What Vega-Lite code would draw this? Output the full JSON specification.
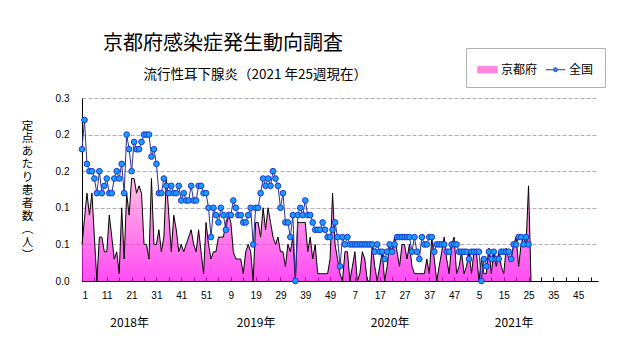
{
  "$schema": "https://vega.github.io/schema/vega-lite/v6.json",
  "width": 516,
  "height": 183,
  "autosize": "none",
  "padding": {"left": 82, "top": 98, "right": 33, "bottom": 66},
  "background": "white",
  "config": {
    "view": {"stroke": null},
    "axisY": {
      "values": [0, 0.05, 0.1, 0.15, 0.2, 0.25],
      "labelExpr": "format(datum.value + 0.0001, '.1f')",
      "grid": true, "gridDash": [4, 2], "gridColor": "#b8a8b8", "gridWidth": 1,
      "domainColor": "#000000", "ticks": false, "labelPadding": 13, "labelOverlap": false,
      "labelFont": "Liberation Sans Narrow, Liberation Sans", "labelFontSize": 10, "labelColor": "#000000"
    }
  },
  "title": {
    "text": "京都府感染症発生動向調査",
    "subtitle": "\u200b　　　流行性耳下腺炎（2021 年25週現在）",
    "anchor": "start", "frame": "group", "dx": 21, "offset": -34,
    "font": "Noto Sans CJK JP", "fontSize": 20, "fontWeight": "normal", "color": "#000000",
    "subtitleFont": "Noto Sans CJK JP", "subtitleFontSize": 13.5, "subtitleColor": "#000000", "subtitlePadding": 14
  },
  "data": {"values": [
    {"w":1,"kyoto":0.05,"national":0.18},{"w":2,"kyoto":0.085,"national":0.22},{"w":3,"kyoto":0.12,"national":0.16},{"w":4,"kyoto":0.09,"national":0.15},{"w":5,"kyoto":0.12,"national":0.15},
    {"w":6,"kyoto":0.06,"national":0.14},{"w":7,"kyoto":0.0,"national":0.12},{"w":8,"kyoto":0.06,"national":0.15},{"w":9,"kyoto":0.06,"national":0.12},{"w":10,"kyoto":0.04,"national":0.13},
    {"w":11,"kyoto":0.04,"national":0.14},{"w":12,"kyoto":0.09,"national":0.12},{"w":13,"kyoto":0.06,"national":0.12},{"w":14,"kyoto":0.03,"national":0.14},{"w":15,"kyoto":0.04,"national":0.15},
    {"w":16,"kyoto":0.01,"national":0.14},{"w":17,"kyoto":0.10,"national":0.16},{"w":18,"kyoto":0.03,"national":0.12},{"w":19,"kyoto":0.12,"national":0.20},{"w":20,"kyoto":0.09,"national":0.18},
    {"w":21,"kyoto":0.14,"national":0.15},{"w":22,"kyoto":0.14,"national":0.19},{"w":23,"kyoto":0.12,"national":0.18},{"w":24,"kyoto":0.13,"national":0.18},{"w":25,"kyoto":0.12,"national":0.19},
    {"w":26,"kyoto":0.05,"national":0.20},{"w":27,"kyoto":0.05,"national":0.20},{"w":28,"kyoto":0.03,"national":0.20},{"w":29,"kyoto":0.14,"national":0.17},{"w":30,"kyoto":0.05,"national":0.18},
    {"w":31,"kyoto":0.05,"national":0.16},{"w":32,"kyoto":0.07,"national":0.12},{"w":33,"kyoto":0.04,"national":0.12},{"w":34,"kyoto":0.06,"national":0.14},{"w":35,"kyoto":0.14,"national":0.13},
    {"w":36,"kyoto":0.09,"national":0.12},{"w":37,"kyoto":0.04,"national":0.13},{"w":38,"kyoto":0.09,"national":0.12},{"w":39,"kyoto":0.07,"national":0.12},{"w":40,"kyoto":0.04,"national":0.13},
    {"w":41,"kyoto":0.05,"national":0.11},{"w":42,"kyoto":0.04,"national":0.12},{"w":43,"kyoto":0.05,"national":0.11},{"w":44,"kyoto":0.06,"national":0.11},{"w":45,"kyoto":0.07,"national":0.13},
    {"w":46,"kyoto":0.05,"national":0.11},{"w":47,"kyoto":0.04,"national":0.11},{"w":48,"kyoto":0.07,"national":0.13},{"w":49,"kyoto":0.04,"national":0.13},{"w":50,"kyoto":0.01,"national":0.12},
    {"w":51,"kyoto":0.08,"national":0.12},{"w":52,"kyoto":0.05,"national":0.10},{"w":53,"kyoto":0.03,"national":0.06},{"w":54,"kyoto":0.04,"national":0.10},{"w":55,"kyoto":0.04,"national":0.09},
    {"w":56,"kyoto":0.06,"national":0.08},{"w":57,"kyoto":0.06,"national":0.10},{"w":58,"kyoto":0.06,"national":0.09},{"w":59,"kyoto":0.08,"national":0.07},{"w":60,"kyoto":0.09,"national":0.09},
    {"w":61,"kyoto":0.08,"national":0.09},{"w":62,"kyoto":0.04,"national":0.11},{"w":63,"kyoto":0.03,"national":0.10},{"w":64,"kyoto":0.03,"national":0.09},{"w":65,"kyoto":0.03,"national":0.09},
    {"w":66,"kyoto":0.01,"national":0.08},{"w":67,"kyoto":0.04,"national":0.08},{"w":68,"kyoto":0.05,"national":0.09},{"w":69,"kyoto":0.04,"national":0.10},{"w":70,"kyoto":0.0,"national":0.05},
    {"w":71,"kyoto":0.08,"national":0.10},{"w":72,"kyoto":0.08,"national":0.10},{"w":73,"kyoto":0.06,"national":0.12},{"w":74,"kyoto":0.10,"national":0.14},{"w":75,"kyoto":0.07,"national":0.13},
    {"w":76,"kyoto":0.10,"national":0.14},{"w":77,"kyoto":0.08,"national":0.13},{"w":78,"kyoto":0.06,"national":0.15},{"w":79,"kyoto":0.05,"national":0.14},{"w":80,"kyoto":0.06,"national":0.13},
    {"w":81,"kyoto":0.04,"national":0.10},{"w":82,"kyoto":0.04,"national":0.12},{"w":83,"kyoto":0.02,"national":0.08},{"w":84,"kyoto":0.05,"national":0.08},{"w":85,"kyoto":0.04,"national":0.06},
    {"w":86,"kyoto":0.06,"national":0.09},{"w":87,"kyoto":0.0,"national":0.0},{"w":88,"kyoto":0.08,"national":0.09},{"w":89,"kyoto":0.08,"national":0.10},{"w":90,"kyoto":0.08,"national":0.09},
    {"w":91,"kyoto":0.08,"national":0.11},{"w":92,"kyoto":0.04,"national":0.09},{"w":93,"kyoto":0.06,"national":0.09},{"w":94,"kyoto":0.03,"national":0.08},{"w":95,"kyoto":0.05,"national":0.07},
    {"w":96,"kyoto":0.01,"national":0.07},{"w":97,"kyoto":0.01,"national":0.07},{"w":98,"kyoto":0.01,"national":0.08},{"w":99,"kyoto":0.01,"national":0.07},{"w":100,"kyoto":0.01,"national":0.06},
    {"w":101,"kyoto":0.03,"national":0.06},{"w":102,"kyoto":0.12,"national":0.07},{"w":103,"kyoto":0.05,"national":0.08},{"w":104,"kyoto":0.03,"national":0.06},{"w":105,"kyoto":0.01,"national":0.02},
    {"w":106,"kyoto":0.0,"national":0.06},{"w":107,"kyoto":0.04,"national":0.05},{"w":108,"kyoto":0.04,"national":0.06},{"w":109,"kyoto":0.0,"national":0.05},{"w":110,"kyoto":0.02,"national":0.05},
    {"w":111,"kyoto":0.04,"national":0.05},{"w":112,"kyoto":0.0,"national":0.05},{"w":113,"kyoto":0.01,"national":0.05},{"w":114,"kyoto":0.04,"national":0.05},{"w":115,"kyoto":0.03,"national":0.05},
    {"w":116,"kyoto":0.0,"national":0.05},{"w":117,"kyoto":0.0,"national":0.05},{"w":118,"kyoto":0.05,"national":0.05},{"w":119,"kyoto":0.02,"national":0.04},{"w":120,"kyoto":0.0,"national":0.05},
    {"w":121,"kyoto":0.02,"national":0.04},{"w":122,"kyoto":0.04,"national":0.04},{"w":123,"kyoto":0.0,"national":0.03},{"w":124,"kyoto":0.02,"national":0.04},{"w":125,"kyoto":0.05,"national":0.05},
    {"w":126,"kyoto":0.04,"national":0.04},{"w":127,"kyoto":0.06,"national":0.05},{"w":128,"kyoto":0.04,"national":0.06},{"w":129,"kyoto":0.02,"national":0.06},{"w":130,"kyoto":0.05,"national":0.06},
    {"w":131,"kyoto":0.05,"national":0.06},{"w":132,"kyoto":0.03,"national":0.06},{"w":133,"kyoto":0.05,"national":0.06},{"w":134,"kyoto":0.02,"national":0.04},{"w":135,"kyoto":0.01,"national":0.06},
    {"w":136,"kyoto":0.01,"national":0.04},{"w":137,"kyoto":0.01,"national":0.03},{"w":138,"kyoto":0.01,"national":0.06},{"w":139,"kyoto":0.01,"national":0.05},{"w":140,"kyoto":0.03,"national":0.05},
    {"w":141,"kyoto":0.01,"national":0.06},{"w":142,"kyoto":0.06,"national":0.06},{"w":143,"kyoto":0.03,"national":0.04},{"w":144,"kyoto":0.0,"national":0.05},{"w":145,"kyoto":0.02,"national":0.05},
    {"w":146,"kyoto":0.04,"national":0.05},{"w":147,"kyoto":0.06,"national":0.05},{"w":148,"kyoto":0.03,"national":0.04},{"w":149,"kyoto":0.01,"national":0.04},{"w":150,"kyoto":0.05,"national":0.05},
    {"w":151,"kyoto":0.06,"national":0.05},{"w":152,"kyoto":0.01,"national":0.05},{"w":153,"kyoto":0.02,"national":0.04},{"w":154,"kyoto":0.04,"national":0.04},{"w":155,"kyoto":0.01,"national":0.04},
    {"w":156,"kyoto":0.02,"national":0.04},{"w":157,"kyoto":0.04,"national":0.03},{"w":158,"kyoto":0.01,"national":0.04},{"w":159,"kyoto":0.04,"national":0.04},{"w":160,"kyoto":0.04,"national":0.04},
    {"w":161,"kyoto":0.0,"national":0.04},{"w":162,"kyoto":0.03,"national":0.0},{"w":163,"kyoto":0.01,"national":0.03},{"w":164,"kyoto":0.01,"national":0.02},{"w":165,"kyoto":0.045,"national":0.04},
    {"w":166,"kyoto":0.01,"national":0.03},{"w":167,"kyoto":0.04,"national":0.04},{"w":168,"kyoto":0.02,"national":0.03},{"w":169,"kyoto":0.04,"national":0.03},{"w":170,"kyoto":0.02,"national":0.04},
    {"w":171,"kyoto":0.01,"national":0.04},{"w":172,"kyoto":0.045,"national":0.04},{"w":173,"kyoto":0.03,"national":0.04},{"w":174,"kyoto":0.03,"national":0.03},{"w":175,"kyoto":0.05,"national":0.05},
    {"w":176,"kyoto":0.06,"national":0.05},{"w":177,"kyoto":0.02,"national":0.06},{"w":178,"kyoto":0.05,"national":0.06},{"w":179,"kyoto":0.06,"national":0.05},{"w":180,"kyoto":0.05,"national":0.06},
    {"w":181,"kyoto":0.13,"national":0.05},{"w":182,"kyoto":0.0,"national":null}
  ]},
  "resolve": {"axis": {"x": "independent"}},
  "layer": [
    {
      "mark": {
        "type": "area",
        "color": {"gradient": "linear", "x1": 0, "y1": 1, "x2": 0, "y2": 0,
          "stops": [{"offset": 0, "color": "#ff00f0"}, {"offset": 0.5, "color": "#ff50e0"}, {"offset": 1, "color": "#ffa8d8"}]},
        "line": {"color": "#000000", "strokeWidth": 1}
      },
      "encoding": {
        "x": {"field": "w", "type": "quantitative",
          "scale": {"domain": [1, 209], "nice": false, "zero": false},
          "axis": {
            "values": [1,6,11,16,21,26,31,36,41,46,51,56,61,66,71,76,81,86,91,96,101,106,111,116,121,126,131,136,141,146,151,156,161,166,171,176,181,186,191,196,201,206],
            "labelExpr": "(datum.value - 1) % 10 == 0 ? (datum.value <= 52 ? datum.value : (datum.value <= 104 ? datum.value - 52 : (datum.value <= 156 ? datum.value - 104 : datum.value - 156))) : ''",
            "title": null, "grid": false, "domainColor": "#000000", "domainWidth": 1,
            "tickColor": "#000000", "tickSize": -4, "labelPadding": 13, "labelOverlap": false,
            "labelFont": "Liberation Sans Narrow, Liberation Sans", "labelFontSize": 10, "labelColor": "#000000"
          }
        },
        "y": {"field": "kyoto", "type": "quantitative",
          "scale": {"domain": [0, 0.25], "nice": false},
          "axis": {
            "values": [0, 0.05, 0.1, 0.15, 0.2, 0.25],
            "title": ["定","点","あ","た","り","患","者","数","︵","人","︶"],
            "titleAngle": 0, "titleX": -55, "titleY": 22, "titleAlign": "center", "titleBaseline": "top",
            "titleFont": "Noto Sans CJK JP", "titleFontSize": 11.5, "titleFontWeight": "normal", "titleLineHeight": 12.9, "titleColor": "#000000"
          }
        }
      }
    },
    {
      "mark": {"type": "line", "strokeWidth": 1},
      "encoding": {
        "x": {"field": "w", "type": "quantitative", "axis": null},
        "y": {"field": "national", "type": "quantitative", "axis": {"values": [0, 0.05, 0.1, 0.15, 0.2, 0.25]}},
        "color": {"datum": "全国",
          "scale": {"domain": ["京都府", "全国"], "range": ["#ff88dc", "#303090"]},
          "legend": {
            "title": null, "orient": "none", "legendX": 384, "legendY": -50, "direction": "horizontal",
            "padding": 11, "strokeColor": "#b0b0b0", "fillColor": "#ffffff",
            "labelFont": "Noto Sans CJK JP", "labelFontSize": 12, "labelColor": "#000000",
            "symbolSize": 380, "columnPadding": 5, "labelOffset": 3,
            "encode": {"symbols": {"update": {
              "shape": {"signal": "datum.value === '全国' ? 'M-1,0L-0.2,0M0.2,0L1,0M-0.2,0A0.2,0.2,0,1,1,0.2,0A0.2,0.2,0,1,1,-0.2,0Z' : 'M-1,-0.33L1,-0.33L1,0.33L-1,0.33Z'"},
              "fill": {"signal": "datum.value === '全国' ? '#1a9cff' : '#ff88dc'"},
              "stroke": {"signal": "datum.value === '全国' ? '#2030c0' : '#d000b0'"},
              "strokeWidth": {"value": 1},
              "opacity": {"value": 1}
            }}}
          }
        }
      }
    },
    {
      "mark": {"type": "point", "filled": true, "size": 32, "fill": "#1a9cff", "stroke": "#2038d0", "strokeWidth": 1, "opacity": 1},
      "encoding": {
        "x": {"field": "w", "type": "quantitative", "axis": null},
        "y": {"field": "national", "type": "quantitative", "axis": {"values": [0, 0.05, 0.1, 0.15, 0.2, 0.25]}}
      }
    },
    {
      "mark": {"type": "point", "opacity": 0},
      "encoding": {
        "x": {"field": "w", "type": "quantitative",
          "axis": {
            "orient": "bottom", "values": [20, 71, 125, 175],
            "labelExpr": "datum.value < 50 ? '2018年' : (datum.value < 100 ? '2019年' : (datum.value < 150 ? '2020年' : '2021年'))",
            "domain": false, "ticks": false, "grid": false, "title": null, "labelPadding": 36,
            "labelFont": "Noto Sans CJK JP", "labelFontSize": 12, "labelColor": "#000000", "labelOverlap": false
          }
        },
        "y": {"field": "national", "type": "quantitative", "axis": {"values": [0, 0.05, 0.1, 0.15, 0.2, 0.25]}}
      }
    }
  ]
}
